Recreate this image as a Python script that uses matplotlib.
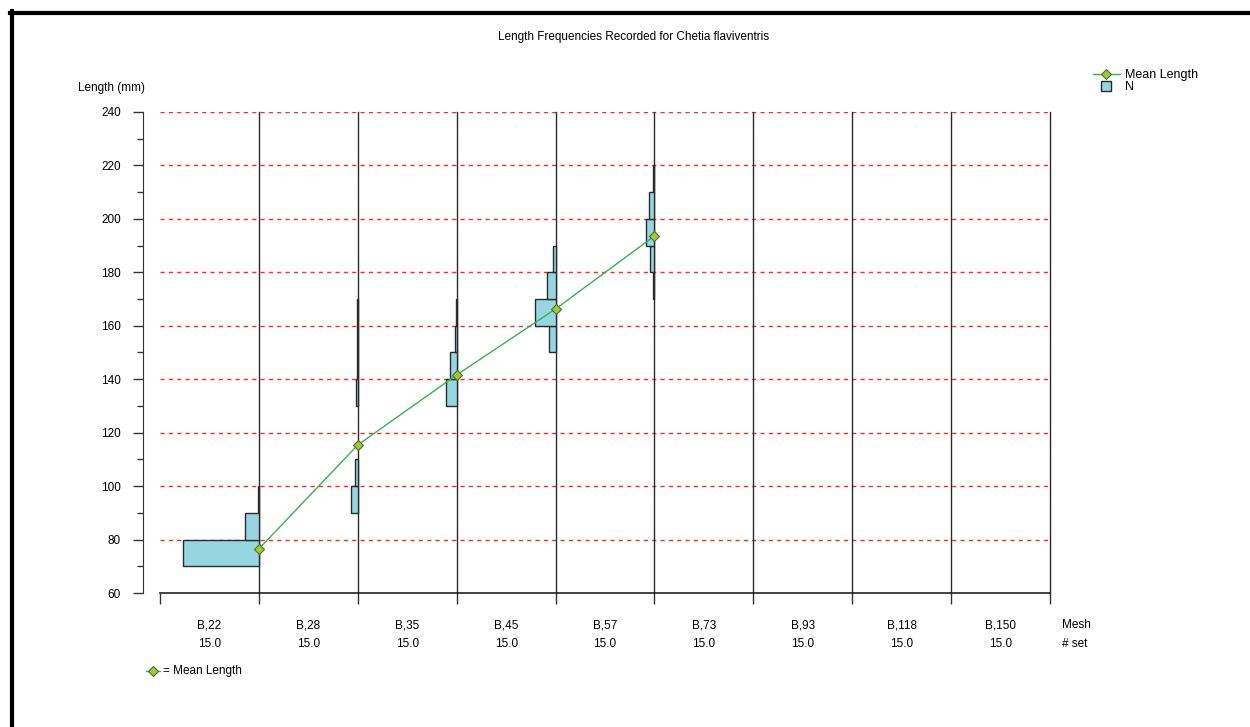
import numpy as np
import matplotlib
matplotlib.use("Agg")
import matplotlib.pyplot as plt
from matplotlib.lines import Line2D
from matplotlib.ticker import MultipleLocator

plt.rcParams['font.family'] = ['Liberation Sans', 'DejaVu Sans']

# data
mesh = ['B,22', 'B,28', 'B,35', 'B,45', 'B,57', 'B,73', 'B,93', 'B,118', 'B,150']
n_set = [15.0, 15.0, 15.0, 15.0, 15.0, 15.0, 15.0, 15.0, 15.0]
len_bins = [70, 80, 90, 100, 110, 120, 130, 140, 150, 160, 170, 180, 190, 200, 210]
n_b22 = [76, 14, 1, 0, 0, 0, 0, 0, 0, 0, 0, 0, 0, 0, 0]
n_b28 = [0, 0, 7, 3, 0, 0, 2, 1, 1, 1, 0, 0, 0, 0, 0]
n_b35 = [0, 0, 0, 0, 0, 0, 11, 7, 2, 1, 0, 0, 0, 0, 0]
n_b45 = [0, 0, 0, 0, 0, 0, 0, 0, 7, 21, 9, 3, 0, 0, 0]
n_b57 = [0, 0, 0, 0, 0, 0, 0, 0, 0, 0, 1, 4, 8, 5, 1]
mean_len = [76.5, 115.4, 141.6, 166.3, 193.6]

counts = [n_b22, n_b28, n_b35, n_b45, n_b57]

bar_fc = '#96d6e1'
bar_ec = '#2b2b2b'
line_c = '#3cb05a'
mk_fc = '#9acd32'
mk_ec = '#556b2f'

W, H = 1250, 727
fig = plt.figure(figsize=(W / 100, H / 100), dpi=100)
ax = fig.add_axes([160 / W, 1 - 593 / H, (1050 - 160) / W, (593 - 112) / H])

ax.set_xlim(0, len(mesh))
ax.set_ylim(60, 240)

# red dashed horizontal grid
for yv in range(80, 241, 20):
    ax.axhline(yv, color='#ff2a2a', lw=1, ls=(0, (3, 3)), zorder=1)

# category boundaries
for i in range(1, len(mesh) + 1):
    ax.axvline(i, color='#2a2a2a', lw=1, zorder=2, clip_on=False)

# histograms drawn leftwards from each column's right edge
scale = 1 / 99.0
for i, c in enumerate(counts):
    c = np.array(c, dtype=float)
    m = c > 0
    ax.barh(np.array(len_bins)[m], -c[m] * scale, left=i + 1, height=10,
            align='edge', color=bar_fc, edgecolor=bar_ec, linewidth=1.0, zorder=3)

# mean length line
xm = np.arange(1, len(mean_len) + 1)
ax.plot(xm, mean_len, color=line_c, lw=1, marker='D', ms=5,
        mfc=mk_fc, mec=mk_ec, mew=0.8, zorder=5, clip_on=False)

# axes styling
for s in ['top', 'right']:
    ax.spines[s].set_visible(False)
ax.spines['left'].set_position(('outward', 12.2))
ax.spines['left'].set_color('#333333')
ax.spines['bottom'].set_color('#222222')
ax.spines['bottom'].set_linewidth(1.2)

ax.yaxis.set_major_locator(MultipleLocator(20))
ax.yaxis.set_minor_locator(MultipleLocator(10))
ax.tick_params(axis='y', which='major', length=7.5, width=1, color='#333333',
               labelsize=8.5, pad=8.5)
ax.tick_params(axis='y', which='minor', length=4, width=1, color='#333333')

ax.set_xticks(range(0, len(mesh) + 1))
ax.tick_params(axis='x', which='major', length=8, width=1, color='#333333',
               labelbottom=False)

tr = ax.get_xaxis_transform()
for i, (mname, ns) in enumerate(zip(mesh, n_set)):
    ax.text(i + 0.5, -32 / 481, mname, transform=tr, ha='center', va='center', fontsize=8.5)
    ax.text(i + 0.5, -51 / 481, f'{ns:.1f}', transform=tr, ha='center', va='center', fontsize=8.5)
fig.text(1062 / W, 1 - 625 / H, 'Mesh', ha='left', va='center', fontsize=8.5)
fig.text(1062 / W, 1 - 644 / H, '# set', ha='left', va='center', fontsize=8.5)

fig.text(634 / W, 1 - 37 / H, 'Length Frequencies Recorded for Chetia flaviventris',
         ha='center', va='center', fontsize=8.5)
fig.text(78 / W, 1 - 88 / H, 'Length (mm)', ha='left', va='center', fontsize=8.5)

# legend top right
handles = [
    Line2D([], [], color=line_c, lw=1, marker='D', ms=5, mfc=mk_fc, mec=mk_ec, mew=0.8),
    Line2D([], [], ls='none', marker='s', ms=6.5, mfc=bar_fc, mec=bar_ec, mew=1),
]
fig.legend(handles, ['Mean Length', 'N'], loc='upper left',
           bbox_to_anchor=(1087 / W, 1 - 63 / H), frameon=False, fontsize=9,
           handlelength=2.1, handletextpad=0.45, labelspacing=0.0, borderpad=0)

# bottom legend
yb = 1 - 671 / H
fig.add_artist(Line2D([146 / W, 153 / W, 160 / W], [yb, yb, yb], color=line_c, lw=1,
                      marker='D', ms=5, mfc=mk_fc, mec=mk_ec, mew=0.8, markevery=[1]))
fig.text(163 / W, yb, '= Mean Length', ha='left', va='center', fontsize=8.5)

# outer frame (top and left)
fig.add_artist(Line2D([10 / W, 1.0], [1 - 12.5 / H, 1 - 12.5 / H], color='black', lw=3))
fig.add_artist(Line2D([12 / W, 12 / W], [0, 1 - 11 / H], color='black', lw=3))

fig.savefig('out.png', dpi=100)
